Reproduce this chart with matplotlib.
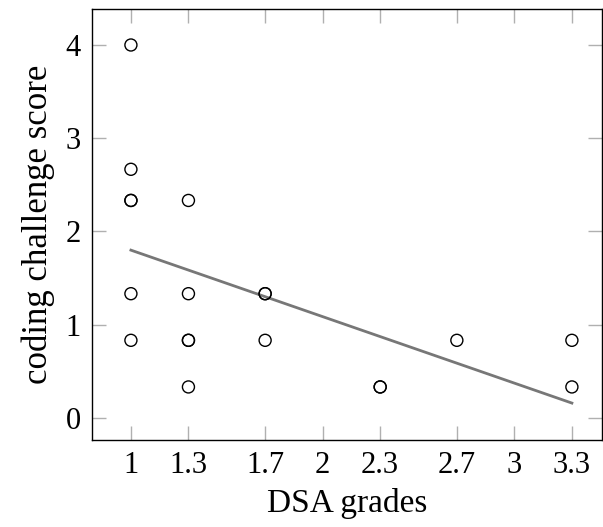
import matplotlib
matplotlib.use("Agg")
import matplotlib.pyplot as plt

# DSA grade vs coding challenge score (repeated pairs listed twice)
dsa_grades = [1, 1, 1, 1, 1, 1,
              1.3, 1.3, 1.3, 1.3, 1.3,
              1.7, 1.7, 1.7,
              2.3, 2.3,
              2.7,
              3.3, 3.3]
coding_scores = [4.0, 2.667, 2.333, 2.333, 1.333, 0.833,
                 2.333, 1.333, 0.833, 0.833, 0.333,
                 1.333, 1.333, 0.833,
                 0.333, 0.333,
                 0.833,
                 0.833, 0.333]

# regression line endpoints
fit_x = [1.0, 3.3]
fit_y = [1.80, 0.16]

x_ticks = [1, 1.3, 1.7, 2, 2.3, 2.7, 3, 3.3]
x_tick_labels = ["1", "1.3", "1.7", "2", "2.3", "2.7", "3", "3.3"]
y_ticks = [0, 1, 2, 3, 4]

plt.rcParams["font.family"] = ["Liberation Serif", "DejaVu Serif"]

fig = plt.figure(figsize=(6.03, 5.27), dpi=100)
ax = fig.add_axes([92 / 603, 87 / 527, 510 / 603, 431 / 527])

ax.plot(fit_x, fit_y, color="#777777", linewidth=2.0, zorder=2)
ax.scatter(dsa_grades, coding_scores, s=75, facecolors="none",
           edgecolors="black", linewidths=1.0, zorder=3)

ax.set_xlim(0.797, 3.457)
ax.set_ylim(-0.236, 4.386)
ax.set_xticks(x_ticks)
ax.set_xticklabels(x_tick_labels)
ax.set_yticks(y_ticks)
ax.tick_params(direction="in", length=10, width=1, color="#b0b0b0",
               top=True, right=True, labelsize=22, pad=8)
for side in ax.spines.values():
    side.set_linewidth(1.0)

ax.set_xlabel("DSA grades", fontsize=24, labelpad=6)
ax.set_ylabel("coding challenge score", fontsize=25, labelpad=8)

plt.savefig("out.png", dpi=100)
plt.close(fig)
